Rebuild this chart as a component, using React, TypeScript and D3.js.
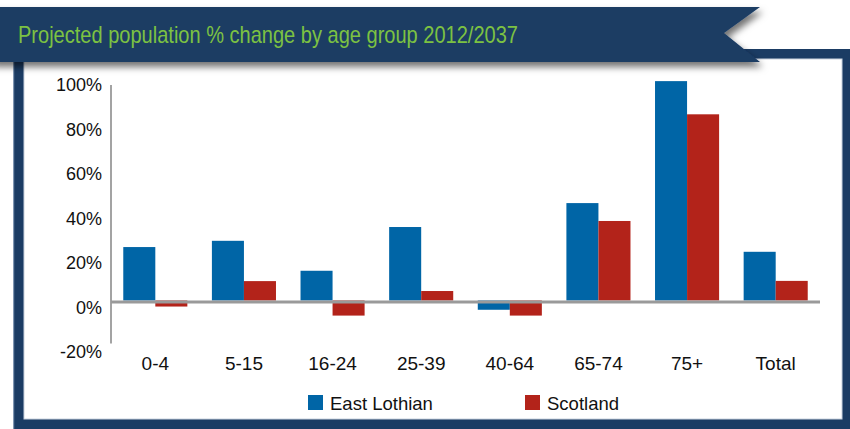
import React from "react";
import * as d3 from "d3";

const categories = ["0-4", "5-15", "16-24", "25-39", "40-64", "65-74", "75+", "Total"];
const eastLothian = [24.8, 27.7, 13.8, 34.1, -4.3, 45.2, 101.8, 22.6];
const scotland = [-2.8, 9.0, -7.0, 4.4, -7.0, 36.9, 86.4, 9.1];
const yTicks = [-20, 0, 20, 40, 60, 80, 100];
const seriesNames = ["East Lothian", "Scotland"];
const title = "Projected population % change by age group 2012/2037";

const W = 850;
const H = 429;
const NAVY = "#1b3c64";
const BLUE = "#0065a6";
const RED = "#b3231a";
const GREEN = "#7cc242";
const FONT = "'Liberation Sans', Arial, Helvetica, sans-serif";

export default function App() {
  const left = 111;
  const right = 820;
  const x = d3.scaleBand<string>().domain(categories).range([left, right]).paddingInner(0.277).paddingOuter(0.1385);
  const xs = d3.scaleBand<string>().domain(seriesNames).range([0, x.bandwidth()]);
  const y = d3.scaleLinear().domain([-20, 100]).range([343.6, 85]);
  const yLabel = d3.scaleLinear().domain([-20, 100]).range([352, 85]);
  const series = [eastLothian, scotland];
  const colors = [BLUE, RED];
  const y0 = y(0);

  const bannerPath = d3.path();
  bannerPath.moveTo(-10, 7);
  bannerPath.lineTo(760, 7);
  bannerPath.lineTo(724, 33);
  bannerPath.lineTo(760, 62);
  bannerPath.lineTo(-10, 62);
  bannerPath.closePath();

  return (
    <svg width={W} height={H} style={{ position: "absolute", left: 0, top: 0 }} fontFamily={FONT}>
      <defs>
        <filter id="sh" x="-5%" y="-50%" width="115%" height="220%">
          <feDropShadow dx="3" dy="5" stdDeviation="3.5" floodColor="#000" floodOpacity="0.55" />
        </filter>
      </defs>
      <rect x={0} y={0} width={W} height={H} fill="#fff" />
      {/* frame */}
      <rect x={13} y={49} width={W} height={H} fill={NAVY} />
      <rect x={13} y={49} width={1.2} height={H} fill="#7f95b2" />
      <rect x={24} y={59} width={818} height={360} fill="#fff" stroke="#c9d2de" strokeWidth={1} />
      {/* banner */}
      <path d={bannerPath.toString()} fill={NAVY} filter="url(#sh)" />
      <text x={18} y={43} fontSize={24} fill={GREEN} textLength={500} lengthAdjust="spacingAndGlyphs"
        fontFamily="'Liberation Sans Narrow', 'Arial Narrow', 'Liberation Sans', Arial, sans-serif">
        {title}
      </text>
      {/* bars */}
      {categories.map((c, i) => (
        <g key={c}>
          {series.map((s, k) => {
            const v = s[i];
            const bx = (x(c) as number) + (xs(seriesNames[k]) as number);
            return (
              <rect key={k} x={bx} y={v >= 0 ? y(v) : y0} width={xs.bandwidth()}
                height={Math.abs(y(v) - y0)} fill={colors[k]} />
            );
          })}
          <text x={(x(c) as number) + x.bandwidth() / 2} y={369.5} fontSize={19} textAnchor="middle" fill="#111">
            {c}
          </text>
        </g>
      ))}
      {/* axes */}
      <line x1={left} x2={left} y1={y(100)} y2={y(-20)} stroke="#a3a3a3" strokeWidth={2} />
      <line x1={left} x2={right} y1={y0 + 1.5} y2={y0 + 1.5} stroke="#9a9a9a" strokeWidth={3} />
      {yTicks.map((t) => (
        <text key={t} x={102} y={yLabel(t)} dy="0.36em" fontSize={18} textAnchor="end" fill="#111">
          {t}%
        </text>
      ))}
      {/* legend */}
      {seriesNames.map((n, k) => {
        const lx = [308, 525][k];
        return (
          <g key={n}>
            <rect x={lx} y={395} width={15} height={15} fill={colors[k]} />
            <text x={lx + 22} y={410} fontSize={18.5} fill="#111">{n}</text>
          </g>
        );
      })}
    </svg>
  );
}
